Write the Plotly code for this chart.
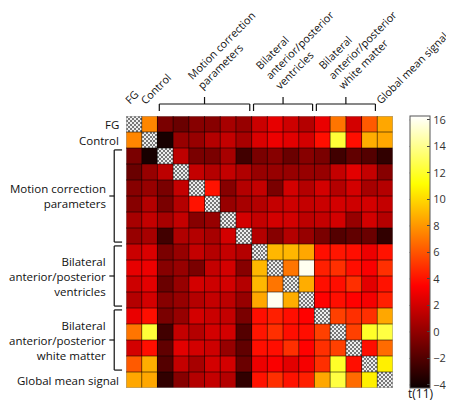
import numpy as np
import plotly.graph_objects as go

# ---------------- data ----------------
group_names = ["FG", "Control", "Motion correction<br>parameters",
               "Bilateral<br>anterior/posterior<br>ventricles",
               "Bilateral<br>anterior/posterior<br>white matter",
               "Global mean signal"]
group_sizes = [1, 1, 6, 4, 4, 1]

# lower triangle of the symmetric t(11) matrix (row i, columns 0..i-1)
lower_rows = [
    [],
    [7.5],
    [-0.7, -3.8],
    [-1.2, 0.2, 1.4],
    [-0.3, 0.2, -0.7, 1.6],
    [-0.3, 1.1, -0.7, 1.1, 4.0],
    [0.7, 1.6, 0.7, 1.6, -0.3, 0.2],
    [0.2, 0.7, -2.5, 1.0, 1.1, 0.7, 2.1],
    [1.8, 2.3, -0.7, 0.2, 1.6, 1.1, 1.6, 1.1],
    [2.7, 2.9, -0.3, 0.2, -0.7, 1.6, 2.1, -0.3, 9.0],
    [1.9, 2.6, -1.2, 0.2, 2.1, 1.9, 2.1, 1.1, 9.0, 7.0],
    [1.1, 2.1, -0.3, 0.2, 1.1, 1.6, 1.4, 0.2, 8.5, 16.0, 8.7],
    [2.8, 3.9, -0.7, 0.2, 2.1, 1.8, 1.6, -0.7, 3.9, 4.4, 3.9, 3.5],
    [7.0, 12.3, -2.5, 1.6, 1.1, 2.1, 2.1, -1.9, 4.1, 4.9, 3.9, 3.9, 5.4],
    [2.1, 3.9, -1.5, 2.6, 2.1, 1.9, 0.2, -1.5, 3.9, 3.9, 4.9, 3.5, 4.9, 5.4],
    [6.2, 8.7, -1.9, 1.6, 0.7, 2.1, 2.1, -1.2, 2.9, 3.3, 2.6, 3.2, 4.9, 12.0, 3.9],
    [8.5, 8.5, -3.0, -0.3, 1.1, 1.6, 1.1, -3.0, 4.0, 4.9, 4.0, 4.4, 8.5, 12.5, 6.7, 10.7],
]
cbar_ticks = [-4, -2, 0, 2, 4, 6, 8, 10, 12, 14, 16]
cbar_title = "t(11)"
zmin, zmax = -4.23, 16.3

# ---------------- build ----------------
n = len(lower_rows)
z = np.full((n, n), np.nan)
for i, row in enumerate(lower_rows):
    for j, v in enumerate(row):
        z[i, j] = v
        z[j, i] = v

hot = [[0.0, "rgb(10,0,0)"], [0.375, "rgb(255,0,0)"],
       [0.75, "rgb(255,255,0)"], [1.0, "rgb(255,255,255)"]]

W, H = 454, 403
L, T, S = 118, 108, 272          # plot area left, top, size (px)
def px_x(p): return (p - L) / S
def px_y(p): return 1 - (p - T) / S

FONT = "Open Sans"
FS = 11.5       # left labels
FS_TOP = 10.8   # rotated top labels
TXT = "#111"

fig = go.Figure()
fig.add_trace(go.Heatmap(
    z=z, x=list(range(n)), y=list(range(n)),
    colorscale=hot, zmin=zmin, zmax=zmax, hoverinfo="skip",
    colorbar=dict(thickness=20, len=1, lenmode="fraction", y=1, yanchor="top",
                  ypad=0, x=px_x(407), xanchor="left", xpad=0,
                  tickvals=cbar_ticks, ticks="inside", ticklen=3,
                  tickcolor="#444", outlinecolor="#555", outlinewidth=1,
                  tickfont=dict(size=11, color="#333", family=FONT)),
))

# checkerboard for diagonal (undefined) cells
sub = 8
m = n * sub
sc = (np.arange(m) + 0.5) / sub - 0.5
zc = np.full((m, m), np.nan)
for i in range(n):
    for a in range(sub):
        for b in range(sub):
            zc[i * sub + a, i * sub + b] = (a + b) % 2
fig.add_trace(go.Heatmap(z=zc, x=sc, y=sc, zmin=0, zmax=1, showscale=False,
                         colorscale=[[0, "#777777"], [1, "#eeeeee"]],
                         hoverinfo="skip"))

shapes = []
# cell borders
for k in range(n + 1):
    p = k - 0.5
    col = "rgba(0,0,0,0.55)" if 0 < k < n else "#999"
    shapes.append(dict(type="line", xref="x", yref="y", x0=p, x1=p, y0=-0.5, y1=n - 0.5,
                       line=dict(color=col, width=1)))
    shapes.append(dict(type="line", xref="x", yref="y", y0=p, y1=p, x0=-0.5, x1=n - 0.5,
                       line=dict(color=col, width=1)))

# left-side colorbar ticks
for v in cbar_ticks:
    yy = (v - zmin) / (zmax - zmin)
    shapes.append(dict(type="line", xref="paper", yref="paper", x0=px_x(407), x1=px_x(410),
                       y0=yy, y1=yy, line=dict(color="#444", width=1)))

annotations = []
bk = dict(color="#111", width=1.2)
inset = 0.12
start = 0
for name, size in zip(group_names, group_sizes):
    a, b = start, start + size - 1
    start += size
    nlines = name.count("<br>") + 1
    if size > 1:
        # left bracket
        y0, y1 = a - 0.5 + inset, b + 0.5 - inset
        xv, xa, xt = px_x(106), px_x(114), px_x(101)
        shapes += [
            dict(type="line", xref="paper", yref="y", x0=xv, x1=xv, y0=y0, y1=y1, line=bk),
            dict(type="line", xref="paper", yref="y", x0=xv, x1=xa, y0=y0, y1=y0, line=bk),
            dict(type="line", xref="paper", yref="y", x0=xv, x1=xa, y0=y1, y1=y1, line=bk),
            dict(type="line", xref="paper", yref="y", x0=xt, x1=xv, y0=(a + b) / 2, y1=(a + b) / 2, line=bk),
        ]
        # top bracket
        x0, x1 = a - 0.5 + inset, b + 0.5 - inset
        yh, ya, yt = px_y(96), px_y(103), px_y(89)
        xm = (a + b) / 2
        shapes += [
            dict(type="line", xref="x", yref="paper", x0=x0, x1=x1, y0=yh, y1=yh, line=bk),
            dict(type="line", xref="x", yref="paper", x0=x0, x1=x0, y0=yh, y1=ya, line=bk),
            dict(type="line", xref="x", yref="paper", x0=x1, x1=x1, y0=yh, y1=ya, line=bk),
            dict(type="line", xref="x", yref="paper", x0=xm, x1=xm, y0=yh, y1=yt, line=bk),
        ]
        annotations.append(dict(text=name, xref="paper", yref="y", x=px_x(100), y=(a + b) / 2,
                                xanchor="right", yanchor="middle", align="right",
                                showarrow=False, font=dict(size=FS, family=FONT, color=TXT)))
        tick_px = L + S * (xm + 0.5) / n
        hbox = nlines * FS_TOP * 1.3 + 2
        annotations.append(dict(text=name, xref="paper", yref="paper",
                                x=px_x(tick_px - 3 - 0.707 * hbox), y=px_y(87),
                                xanchor="left", yanchor="bottom", align="left", textangle=-45,
                                showarrow=False, font=dict(size=FS_TOP, family=FONT, color=TXT)))
    else:
        annotations.append(dict(text=name, xref="paper", yref="y", x=px_x(113), y=a,
                                xanchor="right", yanchor="middle", align="right",
                                showarrow=False, font=dict(size=FS, family=FONT, color=TXT)))
        cx = L + S * (a + 0.5) / n
        hbox = FS_TOP * 1.3 + 2
        annotations.append(dict(text=name, xref="paper", yref="paper",
                                x=px_x(cx - 4 - 0.707 * hbox), y=px_y(102),
                                xanchor="left", yanchor="bottom", align="left", textangle=-45,
                                showarrow=False, font=dict(size=FS_TOP, family=FONT, color=TXT)))

annotations.append(dict(text=cbar_title, xref="paper", yref="paper", x=px_x(419), y=0,
                        yshift=-5, xanchor="center", yanchor="middle", showarrow=False,
                        font=dict(size=12, family=FONT, color=TXT)))

fig.update_layout(
    width=W, height=H, autosize=False,
    margin=dict(l=L, r=W - L - S, t=T, b=H - T - S),
    paper_bgcolor="white", plot_bgcolor="white",
    xaxis=dict(range=[-0.5, n - 0.5], showticklabels=False, showgrid=False,
               zeroline=False, ticks=""),
    yaxis=dict(range=[n - 0.5, -0.5], showticklabels=False, showgrid=False,
               zeroline=False, ticks=""),
    shapes=shapes, annotations=annotations, showlegend=False,
)
fig.write_html("out.html")
